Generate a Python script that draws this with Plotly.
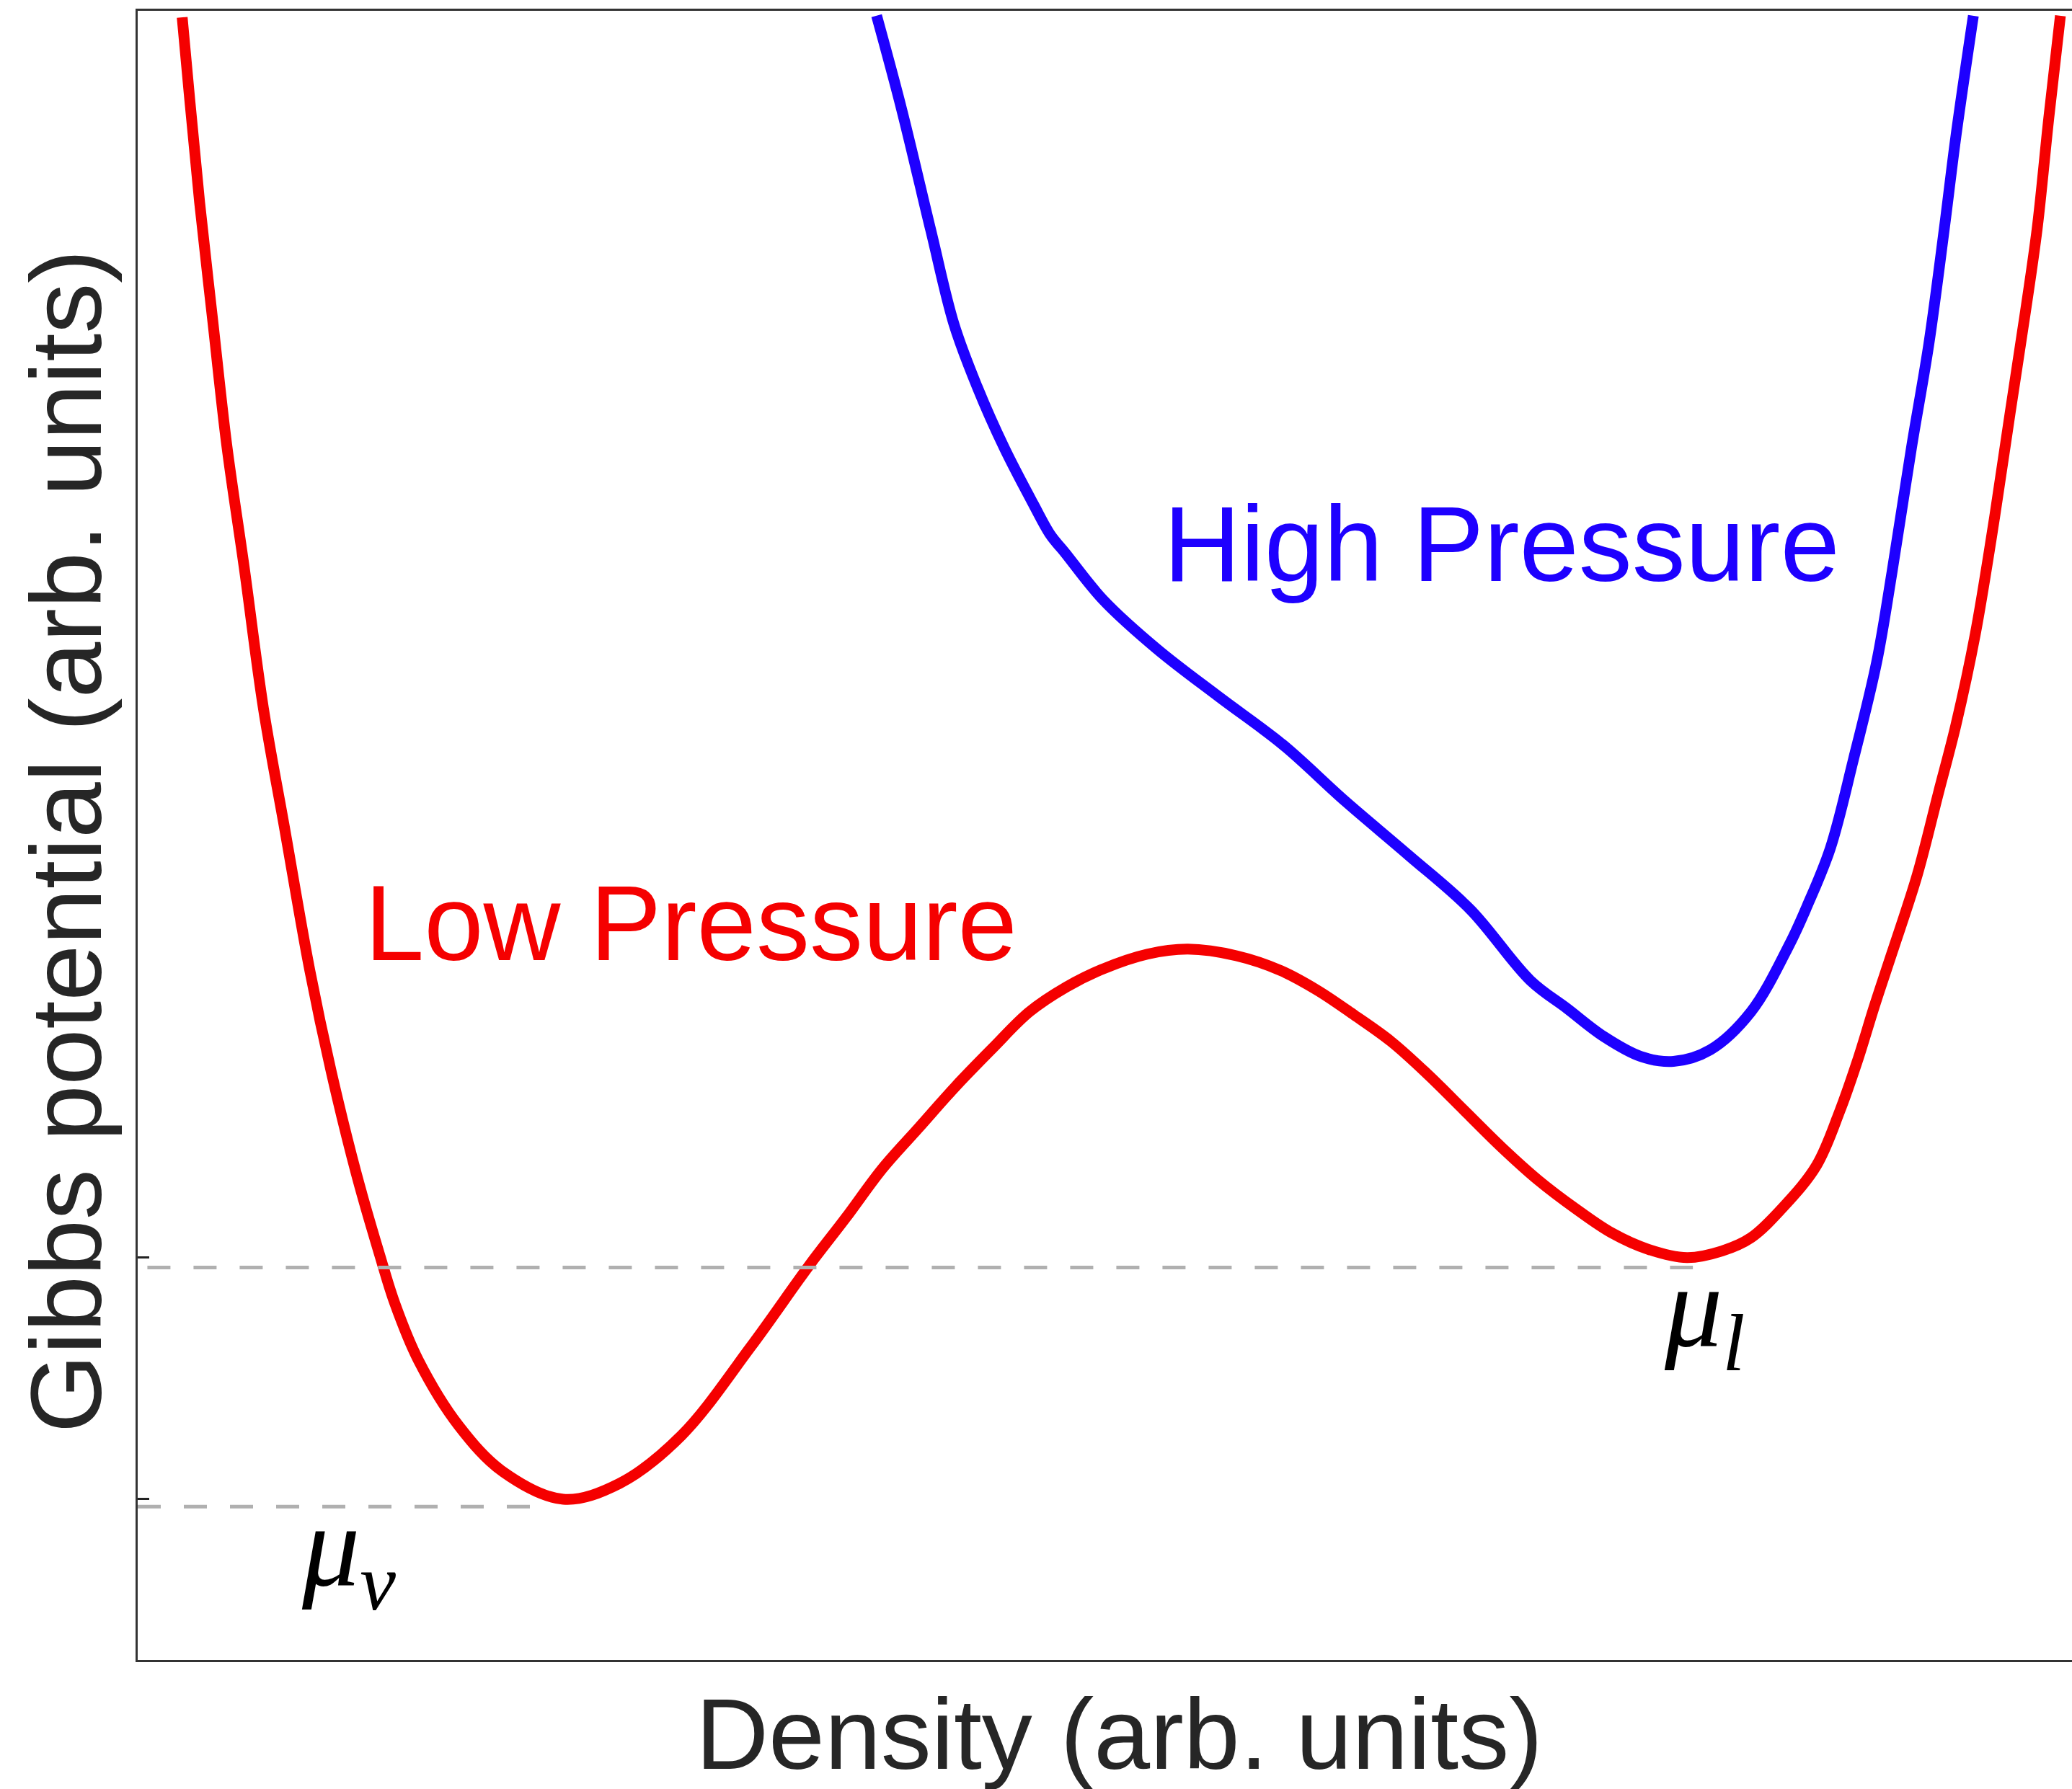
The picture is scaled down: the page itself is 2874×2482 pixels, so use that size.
import plotly.graph_objects as go

# Low-pressure Gibbs potential curve (arbitrary units)
density_low = [0.23, 0.27, 0.32, 0.39, 0.46, 0.55, 0.65, 0.76, 0.89, 1.00, 1.13, 1.25, 1.33,
               1.45, 1.66, 1.89, 2.20, 2.49, 2.81, 3.17, 3.47, 3.66, 3.85, 4.04, 4.23, 4.42,
               4.61, 4.80, 4.99, 5.22, 5.43, 5.68, 5.91, 6.10, 6.29, 6.48, 6.67, 6.86, 7.05,
               7.24, 7.43, 7.62, 7.81, 8.01, 8.19, 8.34, 8.51, 8.68, 8.80, 8.89, 8.98, 9.07,
               9.20, 9.31, 9.40, 9.50, 9.60, 9.68, 9.76, 9.82, 9.88, 9.94]
gibbs_low = [9.96, 9.45, 8.84, 8.10, 7.37, 6.63, 5.77, 5.04, 4.18, 3.57, 2.95, 2.46, 2.16,
             1.82, 1.42, 1.14, 0.975, 1.07, 1.36, 1.90, 2.39, 2.68, 2.98, 3.23, 3.48, 3.71,
             3.93, 4.08, 4.19, 4.28, 4.31, 4.27, 4.18, 4.06, 3.91, 3.75, 3.55, 3.33, 3.11,
             2.91, 2.74, 2.59, 2.49, 2.44, 2.48, 2.56, 2.75, 3.00, 3.33, 3.63, 3.97, 4.29,
             4.76, 5.26, 5.67, 6.22, 6.93, 7.56, 8.18, 8.68, 9.35, 9.97]

# High-pressure Gibbs potential curve
density_high = [3.82, 3.95, 4.10, 4.22, 4.34, 4.48, 4.63, 4.72, 4.79, 4.99, 5.27, 5.59, 5.92,
                6.24, 6.57, 6.89, 7.20, 7.39, 7.58, 7.77, 7.94, 8.13, 8.34, 8.54, 8.63, 8.75,
                8.87, 8.99, 9.07, 9.17, 9.26, 9.34, 9.40, 9.49]
gibbs_high = [9.97, 9.40, 8.67, 8.10, 7.72, 7.35, 7.01, 6.82, 6.72, 6.43, 6.13, 5.84, 5.55,
              5.21, 4.88, 4.55, 4.12, 3.95, 3.78, 3.66, 3.63, 3.70, 3.93, 4.34, 4.57, 4.92,
              5.46, 6.05, 6.60, 7.35, 7.98, 8.68, 9.24, 9.97]

# Reference levels (dashed guides) and tick levels
mu_v_level = 0.93
mu_v_span = [0.0, 2.05]
mu_l_level = 2.38
mu_l_span = [0.05, 8.04]
tick_levels = [0.975, 2.44]

RED = "rgb(245,0,0)"
BLUE = "rgb(30,0,255)"
SANS = "Liberation Sans, Arial, Helvetica, sans-serif"
SERIF = "Liberation Serif, Times New Roman, serif"

fig = go.Figure()
fig.add_trace(go.Scatter(x=density_low, y=gibbs_low, mode="lines",
                         line=dict(color=RED, width=15, shape="spline", smoothing=1.0),
                         hoverinfo="skip"))
fig.add_trace(go.Scatter(x=density_high, y=gibbs_high, mode="lines",
                         line=dict(color=BLUE, width=15, shape="spline", smoothing=1.0),
                         hoverinfo="skip"))
fig.add_trace(go.Scatter(x=mu_l_span, y=[mu_l_level, mu_l_level], mode="lines",
                         line=dict(color="#b0b0b0", width=5, dash="32px,32px"),
                         hoverinfo="skip"))
fig.add_trace(go.Scatter(x=mu_v_span, y=[mu_v_level, mu_v_level], mode="lines",
                         line=dict(color="#b0b0b0", width=5, dash="32px,32px"),
                         hoverinfo="skip"))

annotations = [
    dict(x=2.86, y=4.47, xref="x", yref="y", text="Low Pressure", showarrow=False,
         font=dict(family=SANS, size=148, color=RED), xanchor="center", yanchor="middle"),
    dict(x=7.05, y=6.77, xref="x", yref="y", text="High Pressure", showarrow=False,
         font=dict(family=SANS, size=148, color=BLUE), xanchor="center", yanchor="middle"),
    dict(x=1.09, y=0.64, xref="x", yref="y", text="<i>μ</i><sub><i>v</i></sub>",
         showarrow=False, font=dict(family=SERIF, size=160, color="black"),
         xanchor="center", yanchor="middle"),
    dict(x=8.10, y=2.09, xref="x", yref="y", text="<i>μ</i><sub><i>l</i></sub>",
         showarrow=False, font=dict(family=SERIF, size=160, color="black"),
         xanchor="center", yanchor="middle"),
    dict(x=0.5076, y=-0.045, xref="paper", yref="paper", text="Density (arb. units)",
         showarrow=False, font=dict(family=SANS, size=140, color="#262626"),
         xanchor="center", yanchor="middle"),
    dict(x=-0.0373, y=0.4965, xref="paper", yref="paper", text="Gibbs potential (arb. units)",
         showarrow=False, textangle=-90, font=dict(family=SANS, size=140, color="#262626"),
         xanchor="center", yanchor="middle"),
]

fig.update_layout(
    width=2874, height=2482,
    margin=dict(l=191, r=0, t=15, b=179),
    paper_bgcolor="white", plot_bgcolor="white",
    showlegend=False,
    annotations=annotations,
    xaxis=dict(range=[0, 10], showline=True, linecolor="#333333", linewidth=3, mirror=True,
               showgrid=False, zeroline=False, showticklabels=False, ticks=""),
    yaxis=dict(range=[0, 10], showline=True, linecolor="#333333", linewidth=3, mirror=False,
               showgrid=False, zeroline=False, showticklabels=False, ticks="inside",
               tickvals=tick_levels, ticklen=16, tickwidth=3, tickcolor="#222222"),
)

fig.write_html("out.html", config={"displayModeBar": False},
               post_script="document.body.style.margin='0';document.body.style.overflow='hidden';")
